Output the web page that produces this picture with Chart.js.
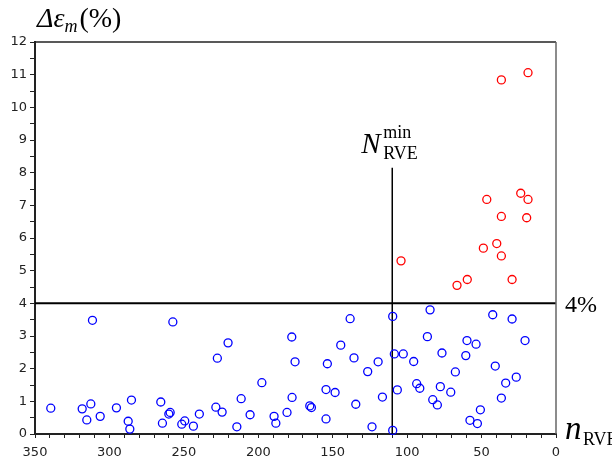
<!DOCTYPE html>
<html>
<head>
<meta charset="utf-8">
<script src="https://cdn.jsdelivr.net/npm/chart.js@4.4.0/dist/chart.umd.min.js"></script>
<style>
  html, body { margin: 0; padding: 0; background: #fff; }
  #wrap { width: 612px; height: 463px; }
</style>
</head>
<body>
<div id="wrap"><canvas id="chart" width="612" height="463"></canvas></div>
<script>
// values
const blueX = [339.4, 311.4, 257.4, 318.3, 312.5, 315.2, 306.2, 295.3, 287.4, 286.3, 285.2, 265.5, 264.4, 260.1, 259.2, 251.4, 249.4, 243.6, 239.6,
  227.5, 220.3, 228.5, 224.3, 214.4, 211.5, 205.5, 197.6, 189.4, 188.2, 180.7, 177.5, 177.3, 175.3, 165.4, 164.3, 154.5, 153.6, 154.5, 148.4, 144.6,
  138.3, 135.7, 134.5, 126.5, 123.6, 119.5, 116.6, 109.7, 109.7, 108.6, 106.6, 102.6,
  84.6, 95.6, 86.4, 93.6, 91.5, 76.6, 77.7, 82.8, 79.7, 70.7, 67.6, 60.6, 59.8, 53.7, 57.8, 52.8, 50.8, 42.5, 40.8, 29.5, 36.7, 33.8, 26.7, 20.8];
const blueY = [0.79, 3.48, 3.43, 0.77, 0.92, 0.43, 0.54, 0.80, 0.39, 0.15, 1.04, 0.98, 0.33, 0.61, 0.66, 0.30, 0.40, 0.24, 0.61,
  2.32, 2.79, 0.82, 0.67, 0.22, 1.08, 0.59, 1.57, 0.54, 0.33, 0.66, 2.97, 1.12, 2.21, 0.86, 0.81, 1.36, 2.15, 0.46, 1.27, 2.72,
  3.53, 2.33, 0.91, 1.91, 0.22, 2.21, 1.13, 3.60, 0.11, 2.45, 1.35, 2.45,
  3.80, 2.22, 2.98, 1.54, 1.40, 2.48, 1.45, 1.05, 0.89, 1.28, 1.90, 2.40, 2.86, 2.75, 0.42, 0.32, 0.74, 3.65, 2.08, 3.52, 1.10, 1.56, 1.74, 2.86];
const redX = [18.8, 36.7, 23.7, 18.8, 46.5, 36.7, 19.7, 39.8, 48.8, 36.7, 59.6, 66.5, 29.5, 104.1];
const redY = [11.06, 10.84, 7.37, 7.18, 7.18, 6.66, 6.62, 5.83, 5.69, 5.45, 4.73, 4.55, 4.73, 5.30];

const xTickLabels = [350, 300, 250, 200, 150, 100, 50, 0];
const yTickLabels = [0, 1, 2, 3, 4, 5, 6, 7, 8, 9, 10, 11, 12];

const limitValue = 4;      // 4% threshold
const nMin = 110;          // N_RVE^min
const nMinTop = 8.15;

function toPoints(xs, ys) {
  return xs.map((x, i) => ({ x: x, y: ys[i] }));
}

// frame (top + right) and the text labels
const decorations = {
  id: 'decorations',
  afterDraw(chart) {
    const ctx = chart.ctx;
    const a = chart.chartArea;
    const y4 = chart.scales.y.getPixelForValue(limitValue);
    ctx.save();
    ctx.lineWidth = 1.5;
    ctx.strokeStyle = '#222';
    ctx.beginPath();
    ctx.moveTo(a.left, a.top);
    ctx.lineTo(a.right, a.top);
    ctx.stroke();
    ctx.strokeStyle = '#666';
    ctx.beginPath();
    ctx.moveTo(a.right, a.top);
    ctx.lineTo(a.right, a.bottom);
    ctx.stroke();

    ctx.fillStyle = '#000';
    ctx.textBaseline = 'alphabetic';
    ctx.textAlign = 'left';
    // y title
    ctx.font = 'italic 28px "Liberation Serif", "DejaVu Serif", serif';
    ctx.fillText('\u0394\u03b5', 37, 27);
    let w = ctx.measureText('\u0394\u03b5').width;
    ctx.font = 'italic 18px "Liberation Serif", serif';
    ctx.fillText('m', 37 + w, 32);
    let w2 = ctx.measureText('m').width;
    ctx.font = '28px "Liberation Serif", serif';
    ctx.fillText('(%)', 39 + w + w2, 27);

    // N_RVE^min
    const xN = chart.scales.x.getPixelForValue(nMin);
    ctx.font = 'italic 29px "Liberation Serif", serif';
    ctx.fillText('N', xN - 31, 153);
    ctx.font = '18px "Liberation Serif", serif';
    ctx.fillText('min', xN - 9, 138);
    ctx.fillText('RVE', xN - 9, 159);

    // 4%
    ctx.font = '24px "Liberation Serif", serif';
    ctx.fillText('4%', a.right + 9, y4 + 9);

    // n_RVE
    ctx.font = 'italic 33px "Liberation Serif", serif';
    ctx.fillText('n', a.right + 9, a.bottom + 5);
    ctx.font = '18px "Liberation Serif", serif';
    ctx.fillText('RVE', a.right + 27, a.bottom + 11);
    ctx.restore();
  }
};

new Chart(document.getElementById('chart').getContext('2d'), {
  type: 'scatter',
  data: {
    datasets: [
      {
        data: toPoints(blueX, blueY),
        borderColor: '#0000ff',
        backgroundColor: 'rgba(0,0,0,0)',
        borderWidth: 1.3,
        pointRadius: 4,
        clip: false
      },
      {
        data: toPoints(redX, redY),
        borderColor: '#ff0000',
        backgroundColor: 'rgba(0,0,0,0)',
        borderWidth: 1.3,
        pointRadius: 4,
        clip: false
      },
      {
        data: [{ x: 350, y: limitValue }, { x: 0, y: limitValue }],
        showLine: true,
        borderColor: '#000',
        borderWidth: 2,
        pointRadius: 0
      },
      {
        data: [{ x: nMin, y: 0 }, { x: nMin, y: nMinTop }],
        showLine: true,
        borderColor: '#000',
        borderWidth: 1.5,
        pointRadius: 0
      }
    ]
  },
  options: {
    responsive: false,
    animation: false,
    layout: { padding: { top: 42, right: 56, left: 0, bottom: 0 } },
    plugins: { legend: { display: false }, tooltip: { enabled: false } },
    scales: {
      x: {
        type: 'linear',
        reverse: true,
        min: 0,
        max: 350,
        afterFit(scale) { scale.height = 29; },
        ticks: {
          stepSize: 10,
          autoSkip: false,
          maxRotation: 0,
          padding: 7,
          color: '#222',
          font: { family: '"DejaVu Sans", sans-serif', size: 13 },
          callback: function (value) {
            return xTickLabels.includes(value) ? String(value) : '';
          }
        },
        grid: { drawOnChartArea: false, drawTicks: true, tickLength: 4, color: '#222' },
        border: { color: '#222', width: 2 }
      },
      y: {
        type: 'linear',
        min: 0,
        max: 12,
        afterFit(scale) { scale.width = 35; },
        ticks: {
          stepSize: 0.5,
          autoSkip: false,
          padding: 3,
          color: '#222',
          font: { family: '"DejaVu Sans", sans-serif', size: 13 },
          callback: function (value) {
            return yTickLabels.includes(value) ? String(value) : '';
          }
        },
        grid: { drawOnChartArea: false, drawTicks: true, tickLength: 5, color: '#222' },
        border: { color: '#222', width: 2 }
      }
    }
  },
  plugins: [decorations]
});
</script>
</body>
</html>
